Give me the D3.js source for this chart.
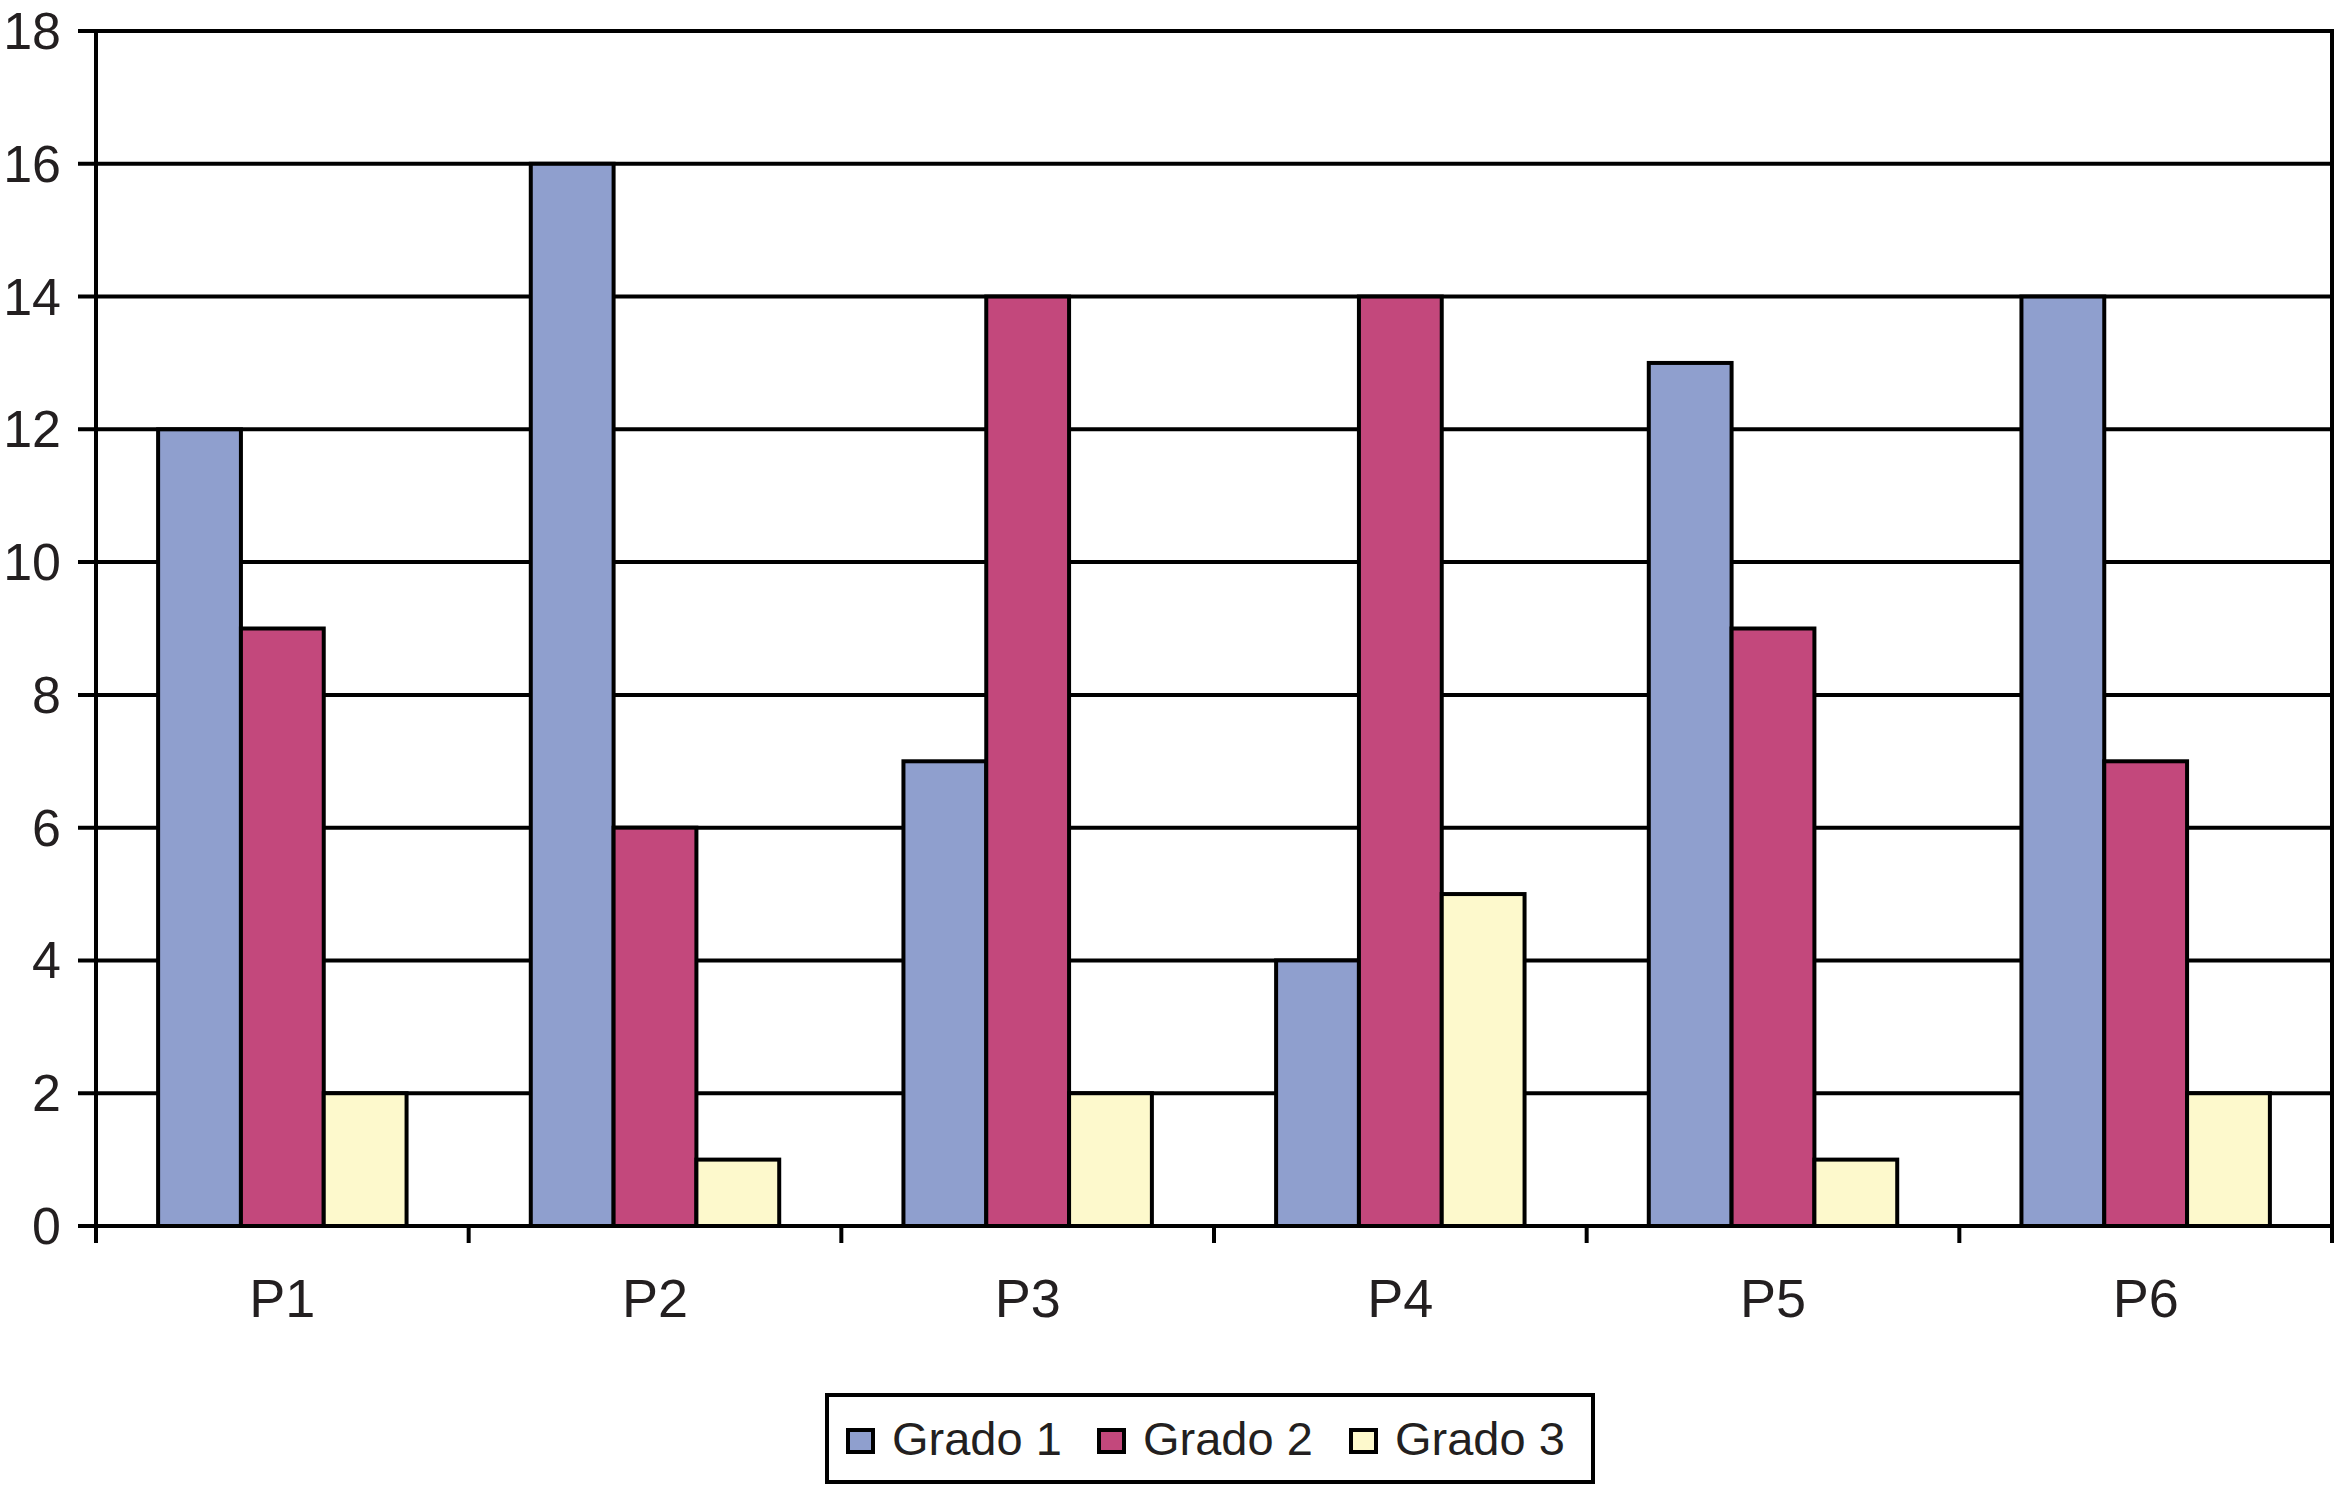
<!DOCTYPE html>
<html>
<head>
<meta charset="utf-8">
<script src="https://cdn.jsdelivr.net/npm/d3@7/dist/d3.min.js"></script>
<style>
html,body{margin:0;padding:0;background:#fff;}
svg{display:block;}
text{font-family:"Liberation Sans",Arial,sans-serif;fill:#231f20;}
</style>
</head>
<body>
<svg id="chart" width="2335" height="1487"></svg>
<script>
const categories = ["P1","P2","P3","P4","P5","P6"];
const seriesNames = ["Grado 1","Grado 2","Grado 3"];
const grado1 = [12,16,7,4,13,14];
const grado2 = [9,6,14,14,9,7];
const grado3 = [2,1,2,5,1,2];
const yTicks = [0,2,4,6,8,10,12,14,16,18];
const colors = ["#8f9fce","#c3487c","#fdf9cc"];

(function(){
const seriesValues = [grado1, grado2, grado3];
const svg = d3.select("#chart");
const pL = 96, pR = 2332, pT = 31, pB = 1226;

const x = d3.scaleBand().domain(categories).range([pL, pR]).paddingInner(0).paddingOuter(0);
const barW = x.bandwidth() / 4.5;
const xs = d3.scaleBand().domain(seriesNames).range([0.75*barW, 3.75*barW]).padding(0);
const y = d3.scaleLinear().domain([0,18]).range([pB, pT]);

const lw = 4;

svg.append("g").selectAll("line").data(yTicks).join("line")
  .attr("x1", pL - 18).attr("x2", pR)
  .attr("y1", d => y(d)).attr("y2", d => y(d))
  .attr("stroke", "#000").attr("stroke-width", lw);

const groups = svg.append("g").selectAll("g").data(categories).join("g")
  .attr("transform", c => `translate(${x(c)},0)`);
groups.selectAll("rect").data((c,i) => seriesNames.map((s,j) => ({s, j, v: seriesValues[j][i]})))
  .join("rect")
  .attr("x", d => xs(d.s))
  .attr("width", xs.bandwidth())
  .attr("y", d => y(d.v))
  .attr("height", d => y(0) - y(d.v))
  .attr("fill", d => colors[d.j])
  .attr("stroke", "#000").attr("stroke-width", lw);

svg.append("line").attr("x1", pL).attr("x2", pL).attr("y1", pT - 2).attr("y2", pB + 17)
  .attr("stroke", "#000").attr("stroke-width", lw);
svg.append("line").attr("x1", pR).attr("x2", pR).attr("y1", pT - 2).attr("y2", pB + 17)
  .attr("stroke", "#000").attr("stroke-width", lw);
svg.append("line").attr("x1", pL - 18).attr("x2", pR + 2).attr("y1", pB).attr("y2", pB)
  .attr("stroke", "#000").attr("stroke-width", lw);
const bounds = categories.map(c => x(c)).concat([pR]);
svg.append("g").selectAll("line").data(bounds).join("line")
  .attr("x1", d => d).attr("x2", d => d).attr("y1", pB).attr("y2", pB + 17)
  .attr("stroke", "#000").attr("stroke-width", lw);

svg.append("g").selectAll("text").data(yTicks).join("text")
  .attr("x", 61).attr("y", d => y(d) + 18)
  .attr("text-anchor", "end").attr("font-size", 52)
  .text(d => d);

svg.append("g").selectAll("text").data(categories).join("text")
  .attr("x", c => x(c) + x.bandwidth()/2).attr("y", 1317)
  .attr("text-anchor", "middle").attr("font-size", 54)
  .text(c => c);

const lg = svg.append("g");
lg.append("rect").attr("x", 827).attr("y", 1395).attr("width", 766).attr("height", 87)
  .attr("fill", "#fff").attr("stroke", "#000").attr("stroke-width", lw);
const legX = [848, 1099, 1351];
const items = lg.selectAll("g").data(seriesNames).join("g")
  .attr("transform", (d,i) => `translate(${legX[i]},0)`);
items.append("rect").attr("x", 0).attr("y", 1430).attr("width", 25).attr("height", 22)
  .attr("fill", (d,i) => colors[i]).attr("stroke", "#000").attr("stroke-width", lw);
items.append("text").attr("x", 44).attr("y", 1455).attr("font-size", 47).text(d => d);
})();
</script>
</body>
</html>
